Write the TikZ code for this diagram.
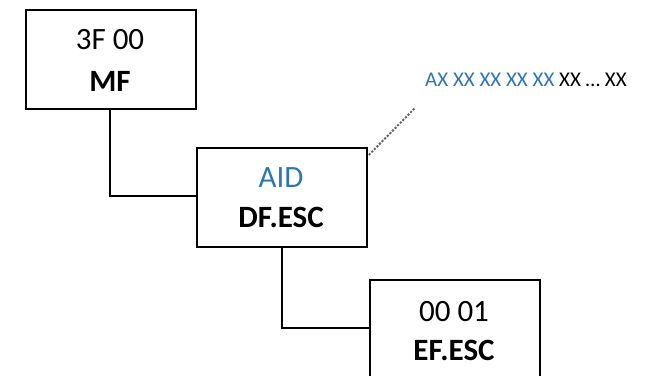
\documentclass[tikz,border=0pt]{standalone}
\usepackage{fontspec}
\setmainfont{Carlito}
\definecolor{aidblue}{RGB}{46,117,182}
\begin{document}
\begin{tikzpicture}[x=1pt,y=-1pt,
  filebox/.style={draw=black,line width=1.8pt,minimum width=170pt,minimum height=99pt,inner sep=0pt,anchor=north west},
  conn/.style={draw=black,line width=1.8pt},
  big/.style={font=\fontsize{31}{31}\selectfont},
  bigb/.style={font=\fontsize{31}{31}\selectfont\bfseries}]
\clip (0,0) rectangle (653,375);
\useasboundingbox (0,0) rectangle (653,375);
\node[filebox] (mf) at (25,9) {};
\node[filebox] (df) at (196,147) {};
\node[filebox] (ef) at (369,279) {};
\node[big] (mft) at (110,40) {3F 00};
\node[bigb] (mfn) at (110,81) {MF};
\node[big,text=aidblue] (dft) at (281,178) {AID};
\node[bigb] (dfn) at (281,217) {DF.ESC};
\node[big] (eft) at (454,312) {00 01};
\node[bigb] (efn) at (454,350) {EF.ESC};
\node[font=\fontsize{21}{21}\selectfont,anchor=west,inner sep=0pt] (aid) at (425,80) {\textcolor{aidblue}{AX XX XX XX XX} XX … XX};
\coordinate (aidend) at (415,108);
\draw[conn] (mf.south -| 110,0) |- (df.west |- 0,196);
\draw[conn] (df.south -| 282,0) |- (ef.west |- 0,328);
\draw[black!60,line width=2pt,dash pattern=on 2.2pt off 1.5pt] (df.north east) ++(1,8) -- (aidend);
\end{tikzpicture}
\end{document}
